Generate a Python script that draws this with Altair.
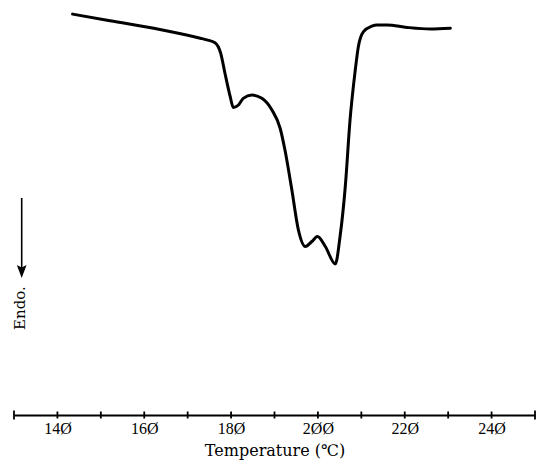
import altair as alt
import pandas as pd

# DSC curve (arbitrary heat-flow units, endotherm downward)
temperature = [143.5, 152.1, 163.6, 172.9, 174.4, 176.3, 177.6, 178.6, 179.8, 180.5,
               181.7, 182.8, 184.8, 187.1, 189.4, 191.3, 192.4, 194.0, 195.5, 197.1,
               198.6, 199.9, 201.7, 204.0, 205.1, 206.3, 207.4, 208.6, 209.3, 210.5,
               212.4, 213.6, 215.9, 220.5, 225.9, 230.5]
heat_flow = [96.6, 95.0, 92.9, 90.8, 90.4, 89.7, 87.2, 82.3, 76.7, 74.1,
             74.7, 76.3, 77.1, 76.3, 73.5, 69.1, 63.9, 54.2, 44.6, 40.6,
             41.8, 43.0, 40.6, 36.4, 43.0, 55.0, 71.1, 83.1, 88.7, 92.4,
             93.7, 94.0, 94.0, 93.4, 93.0, 93.2]

minor_ticks = [140, 150, 160, 170, 180, 190, 200, 210, 220, 230, 240]
end_ticks = [130, 250]
label_values = [140, 160, 180, 200, 220, 240]
label_texts = ["14\u00d8", "16\u00d8", "18\u00d8", "2\u00d8\u00d8", "22\u00d8", "24\u00d8"]
x_title = "Temperature (℃)"
endo_text = "Endo."

W, H = 521, 415

curve = pd.DataFrame({"T": temperature, "Q": heat_flow})
ticks = pd.DataFrame({"T": minor_ticks})
ends = pd.DataFrame({"T": end_ticks})
note = pd.DataFrame({"t": [endo_text]})

label_expr = " : ".join(
    f"datum.value == {v} ? '{t}'" for v, t in zip(label_values, label_texts)
) + " : ''"

x_scale = alt.Scale(domain=[130, 250], nice=False, zero=False)
y_scale = alt.Scale(domain=[0, 100], nice=False, zero=False)

line = alt.Chart(curve).mark_line(
    color="black", strokeWidth=3, interpolate="monotone", strokeCap="round"
).encode(
    x=alt.X("T:Q", scale=x_scale, axis=alt.Axis(
        values=label_values, labelExpr=label_expr, ticks=False, grid=False,
        domainWidth=2, domainColor="black",
        labelFont="Liberation Serif", labelFontSize=16, labelColor="black",
        labelPadding=5,
        title=x_title, titleFont="DejaVu Serif", titleFontSize=16,
        titleFontWeight="normal", titleColor="black", titlePadding=6)),
    y=alt.Y("Q:Q", scale=y_scale, axis=None),
)

tick_rules = alt.Chart(ticks).mark_rule(color="black", strokeWidth=1.8).encode(
    x=alt.X("T:Q", scale=x_scale), y=alt.value(H - 3.5), y2=alt.value(H + 3.5)
)
end_rules = alt.Chart(ends).mark_rule(color="black", strokeWidth=1.8).encode(
    x=alt.X("T:Q", scale=x_scale), y=alt.value(H - 4.5), y2=alt.value(H + 4.5)
)

arrow_shaft = alt.Chart(note).mark_rule(color="black", strokeWidth=1.6).encode(
    x=alt.value(7.7), y=alt.value(198), y2=alt.value(270)
)
arrow_head = alt.Chart(note).mark_point(
    shape="M0,1L-0.75,-1L0,-0.6L0.75,-1Z", filled=True, size=169, color="black", opacity=1
).encode(x=alt.value(7.7), y=alt.value(271.5))
endo = alt.Chart(note).mark_text(
    angle=270, font="DejaVu Serif", fontSize=15, color="black",
    align="center", baseline="middle"
).encode(x=alt.value(6), y=alt.value(308), text="t:N")

chart = alt.layer(line, tick_rules, end_rules, arrow_shaft, arrow_head, endo).properties(
    width=W, height=H,
    autosize=alt.AutoSizeParams(type="none"),
    padding={"left": 14, "top": 0, "right": 5, "bottom": 50},
    background="white",
).configure_view(stroke=None)

chart.save("out.html", embed_options={"renderer": "svg", "actions": False})
